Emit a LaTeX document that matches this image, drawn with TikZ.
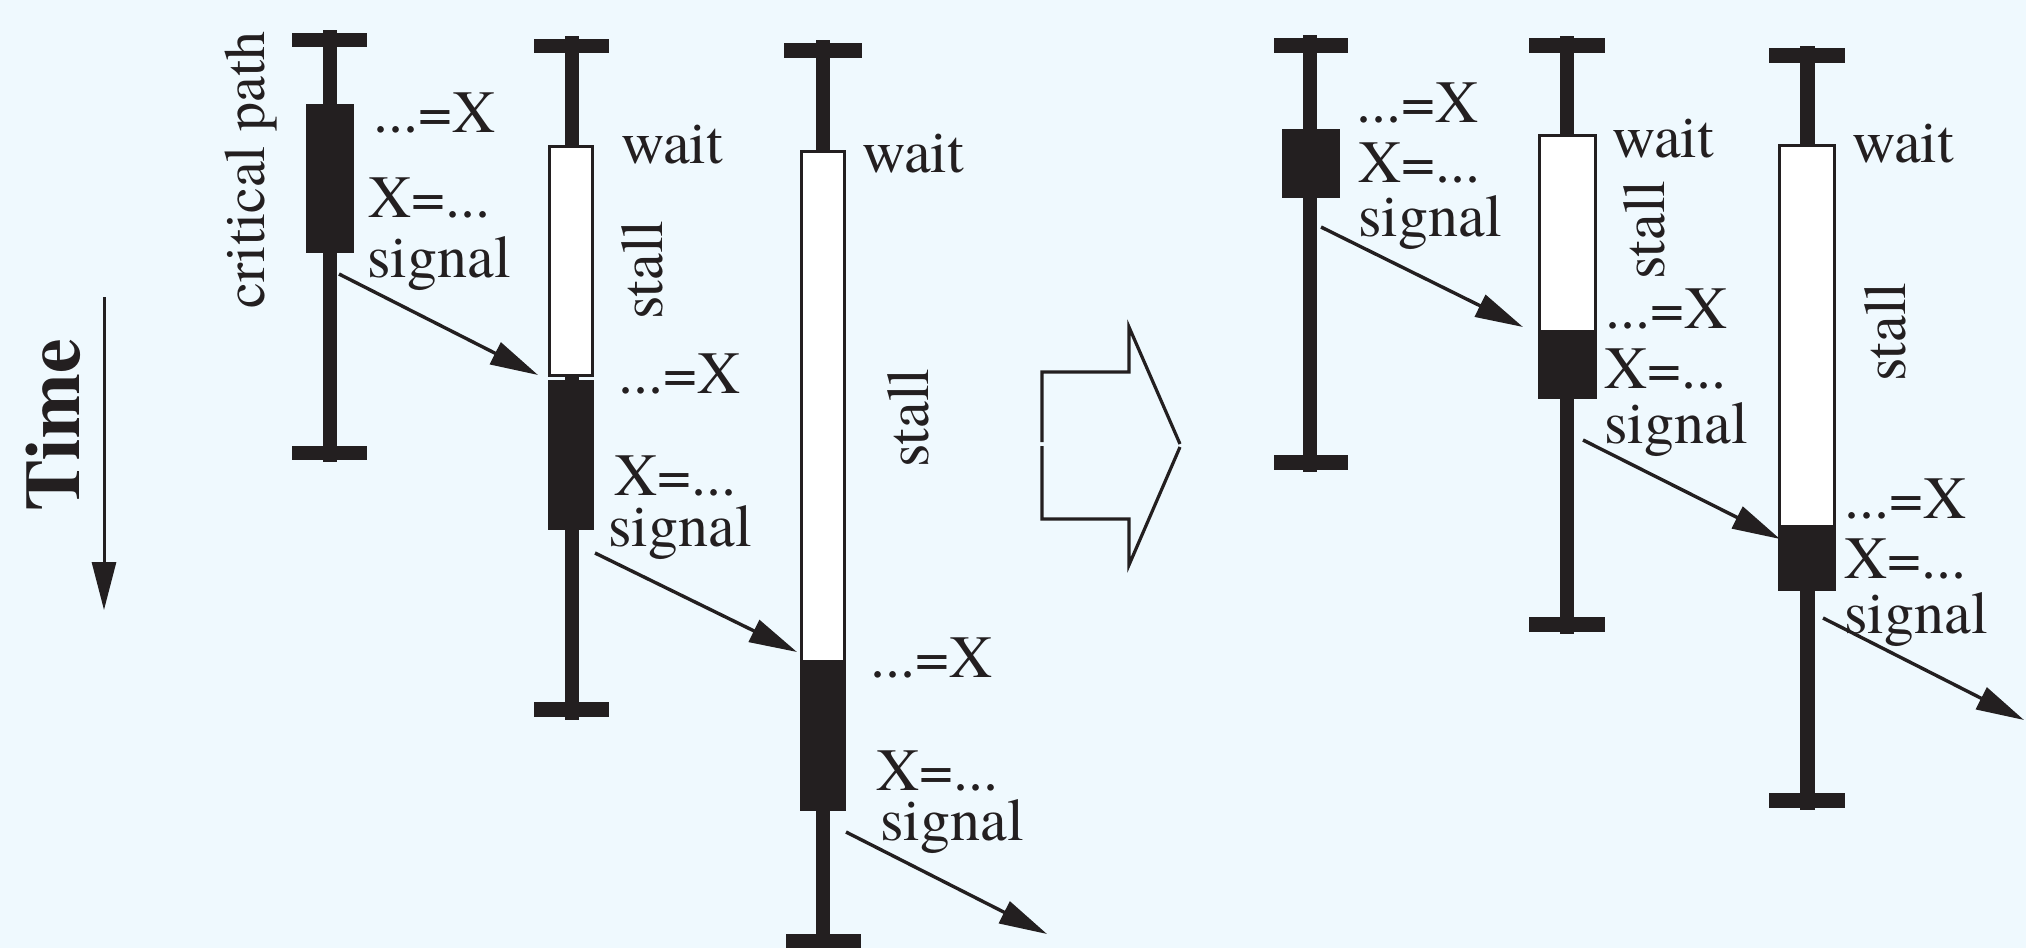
\documentclass[tikz,border=0pt]{standalone}
\usepackage{fontspec}
\setmainfont{TeX Gyre Termes}
\newfontfamily\labfont{TeX Gyre Termes}
\usetikzlibrary{arrows.meta}
\definecolor{ink}{RGB}{35,31,32}
\definecolor{bgc}{RGB}{239,249,254}
\begin{document}
\begin{tikzpicture}[x=0.5pt,y=-0.5pt,
  inkfill/.style={fill=ink,draw=none},
  wbox/.style={fill=white,draw=ink,line width=1.7pt},
  lab/.style={anchor=base west,inner sep=0pt,text=ink,font=\labfont\fontsize{30}{36}\selectfont},
  vlab/.style={anchor=base,rotate=90,inner sep=0pt,text=ink,font=\labfont\fontsize{30}{36}\selectfont},
  sig/.style={draw=ink,line width=1.7pt,-{Triangle[length=24pt,width=12pt]}},
  hollow/.style={draw=ink,line width=1.6pt,line join=miter}]
\useasboundingbox (0,0) rectangle (2026,948);
\fill[bgc] (0,0) rectangle (2026,948);

% Time axis
\node[anchor=base,rotate=90,inner sep=0pt,text=ink,font=\labfont\fontsize{39}{44}\selectfont\bfseries] (time) at (79,425) {Time};
\coordinate (t0) at (104,297);
\coordinate (t1) at (104,610);
\draw[draw=ink,line width=1.5pt,-{Triangle[length=24pt,width=12pt]}] (t0) -- (t1);

% Thread A
\fill[inkfill] (323,30) rectangle (337,462);
\fill[inkfill] (292,33) rectangle (367,47);
\fill[inkfill] (292,446) rectangle (367,460);
\fill[inkfill] (306,104) rectangle (354,253);
\node[vlab,font=\labfont\fontsize{29}{34}\selectfont] (cp) at (264,170) {critical path};
\node[lab] (a1) at (373,132) {...=X};
\node[lab] (a2) at (368,217) {X=...};
\node[lab] (a3) at (367,277) {signal};

% Thread B
\fill[inkfill] (565,36) rectangle (579,720);
\fill[inkfill] (534,39) rectangle (609,53);
\fill[inkfill] (534,702) rectangle (609,717);
\draw[wbox] (549.5,146.5) rectangle (592.5,375.5);
\fill[inkfill] (548,380) rectangle (594,530);
\node[lab] (b0) at (621,163) {wait};
\node[vlab] (bs) at (662,270) {stall};
\node[lab] (b1) at (618,393) {...=X};
\node[lab] (b2) at (614,495) {X=...};
\node[lab] (b3) at (608,546) {signal};

% Thread C
\fill[inkfill] (816,40) rectangle (830,948);
\fill[inkfill] (784,43) rectangle (862,58);
\fill[inkfill] (786,934) rectangle (861,948);
\draw[wbox] (801.5,151.5) rectangle (844.5,662);
\fill[inkfill] (800,663) rectangle (846,811);
\node[lab] (c0) at (862,172) {wait};
\node[vlab] (cs) at (928,418) {stall};
\node[lab] (c1) at (870,677) {...=X};
\node[lab] (c2) at (876,790) {X=...};
\node[lab] (c3) at (880,840) {signal};

% signals left
\coordinate (sa) at (339,274); \coordinate (eb) at (538,375);
\coordinate (sb) at (595,553); \coordinate (ec) at (797,652);
\coordinate (sc) at (846,832); \coordinate (ex) at (1047,934);
\draw[sig] (sa) -- (eb);
\draw[sig] (sb) -- (ec);
\draw[sig] (sc) -- (ex);

% hollow arrow
\draw[hollow] (1042,442) -- (1042,372) -- (1129,372) -- (1129,327) -- (1180,444);
\draw[hollow] (1042,446) -- (1042,519) -- (1129,519) -- (1129,565) -- (1180,447);

% Thread D
\fill[inkfill] (1303,35) rectangle (1317,472);
\fill[inkfill] (1274,38) rectangle (1348,53);
\fill[inkfill] (1274,455) rectangle (1348,470);
\fill[inkfill] (1282,129) rectangle (1340,198);
\node[lab] (d1) at (1356,122) {...=X};
\node[lab] (d2) at (1358,182) {X=...};
\node[lab] (d3) at (1358,236) {signal};

% Thread E
\fill[inkfill] (1560,36) rectangle (1574,634);
\fill[inkfill] (1529,38) rectangle (1605,53);
\fill[inkfill] (1529,617) rectangle (1605,632);
\draw[wbox] (1539.5,135.5) rectangle (1595.5,332);
\fill[inkfill] (1538,332) rectangle (1597,399);
\node[lab] (e0) at (1612,157) {wait};
\node[vlab] (es) at (1664,230) {stall};
\node[lab] (e1) at (1605,328) {...=X};
\node[lab] (e2) at (1604,388) {X=...};
\node[lab] (e3) at (1604,443) {signal};

% Thread F
\fill[inkfill] (1800,46) rectangle (1815,810);
\fill[inkfill] (1769,48) rectangle (1845,63);
\fill[inkfill] (1769,793) rectangle (1845,808);
\draw[wbox] (1779.5,145.5) rectangle (1834.5,527);
\fill[inkfill] (1778,527) rectangle (1836,591);
\node[lab] (f0) at (1852,162) {wait};
\node[vlab] (fs) at (1905,332) {stall};
\node[lab] (f1) at (1844,518) {...=X};
\node[lab] (f2) at (1844,578) {X=...};
\node[lab] (f3) at (1844,633) {signal};

% signals right
\coordinate (sd) at (1321,227); \coordinate (ee) at (1523,327);
\coordinate (se) at (1583,440); \coordinate (ef) at (1780,539);
\coordinate (sf) at (1823,618); \coordinate (ey) at (2024,720);
\draw[sig] (sd) -- (ee);
\draw[sig] (se) -- (ef);
\draw[sig] (sf) -- (ey);
\end{tikzpicture}
\end{document}
